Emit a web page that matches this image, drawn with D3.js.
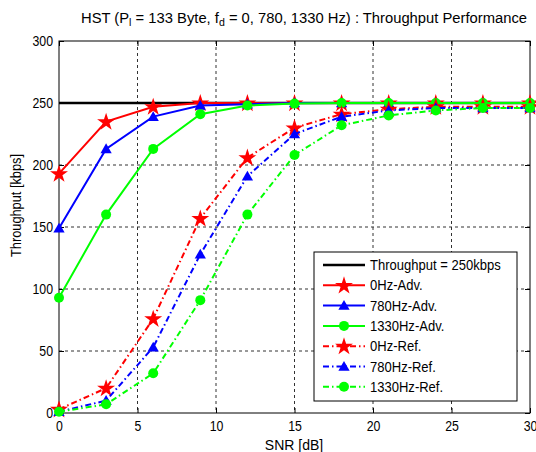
<!DOCTYPE html>
<html>
<head>
<meta charset="utf-8">
<script src="https://cdn.jsdelivr.net/npm/d3@7/dist/d3.min.js"></script>
<style>
  body { margin: 0; background: #fff; }
  svg { display: block; font-family: "Liberation Sans", Arial, sans-serif; }
</style>
</head>
<body>
<svg id="chart" width="536" height="452"></svg>
<script>
// SNR sample points [dB]
const snr = [0, 3, 6, 9, 12, 15, 18, 21, 24, 27, 30];

// Throughput [kbps] per scheme
const adv0 =    [193, 235, 247, 250, 250, 250, 250, 250, 250, 250, 250];
const adv780 =  [149, 213, 239, 248, 249, 250, 250, 250, 250, 250, 250];
const adv1330 = [93, 160, 213, 241, 248, 249.5, 250, 250, 250, 250, 250];
const ref0 =    [3, 20, 76, 157, 206, 230, 241, 245, 247, 247, 247];
const ref780 =  [1, 10, 53, 128, 191, 225, 239, 244, 246, 246, 246];
const ref1330 = [1, 7, 32, 91, 160, 208, 232, 240, 244, 246, 246];

const capValue = 250;
const xTicks = [0, 5, 10, 15, 20, 25, 30];
const yTicks = [0, 50, 100, 150, 200, 250, 300];

const seriesNames = ["0Hz-Adv.", "780Hz-Adv.", "1330Hz-Adv.", "0Hz-Ref.", "780Hz-Ref.", "1330Hz-Ref."];
const seriesValues = [adv0, adv780, adv1330, ref0, ref780, ref1330];
const seriesColors = ["#ff0000", "#0000ff", "#00ff00", "#ff0000", "#0000ff", "#00ff00"];
const seriesMarkers = ["star", "triangle", "circle", "star", "triangle", "circle"];
const seriesDash = [null, null, null, "6,3,1.5,3", "6,3,1.5,3", "6,3,1.5,3"];

const svg = d3.select("#chart");
const m = { left: 59, right: 530, top: 41, bottom: 413 };
const fs = 14;

const x = d3.scaleLinear().domain([0, 30]).range([m.left, m.right]);
const y = d3.scaleLinear().domain([0, 300]).range([m.bottom, m.top]);

// grid
const grid = svg.append("g").attr("stroke", "#000").attr("stroke-width", 1)
  .attr("stroke-dasharray", "3,3").attr("opacity", 0.8);
xTicks.slice(1, -1).forEach(t => grid.append("line")
  .attr("x1", x(t)).attr("x2", x(t)).attr("y1", m.top).attr("y2", m.bottom));
yTicks.slice(1, -1).forEach(t => grid.append("line")
  .attr("x1", m.left).attr("x2", m.right).attr("y1", y(t)).attr("y2", y(t)));

// axes (ticks inside)
const xAxis = d3.axisBottom(x).tickValues(xTicks).tickSize(-5).tickPadding(8);
const xAxisTop = d3.axisTop(x).tickValues(xTicks).tickSize(-5).tickFormat("");
const yAxis = d3.axisLeft(y).tickValues(yTicks).tickSize(-5).tickPadding(6);
const yAxisRight = d3.axisRight(y).tickValues(yTicks).tickSize(-5).tickFormat("");

function styleAxis(g) {
  g.select(".domain").remove();
  g.selectAll("line").attr("stroke", "#000");
  g.selectAll("text").attr("font-size", fs).attr("fill", "#000")
    .attr("font-family", "'Liberation Sans', Arial, sans-serif");
}
svg.append("g").attr("transform", `translate(0,${m.bottom})`).call(xAxis).call(styleAxis)
  .selectAll("text").attr("transform", "scale(0.88,1)");
svg.append("g").attr("transform", `translate(0,${m.top})`).call(xAxisTop).call(styleAxis);
svg.append("g").attr("transform", `translate(${m.left},0)`).call(yAxis).call(styleAxis)
  .selectAll("text").attr("x", -6 / 0.88).attr("transform", "scale(0.88,1)");
svg.append("g").attr("transform", `translate(${m.right},0)`).call(yAxisRight).call(styleAxis);

// plot box
svg.append("rect").attr("x", m.left).attr("y", m.top)
  .attr("width", m.right - m.left).attr("height", m.bottom - m.top)
  .attr("fill", "none").attr("stroke", "#000").attr("stroke-width", 1);

// markers
const starPath = d3.symbol().type(d3.symbolStar).size(100)();
const triPath = d3.symbol().type(d3.symbolTriangle).size(55)();
function drawMarker(g, type, cx, cy, color) {
  if (type === "circle") {
    g.append("circle").attr("cx", cx).attr("cy", cy).attr("r", 5).attr("fill", color);
  } else if (type === "star") {
    g.append("path").attr("d", starPath).attr("transform", `translate(${cx},${cy + 0.5})`).attr("fill", color);
  } else {
    g.append("path").attr("d", triPath).attr("transform", `translate(${cx},${cy + 1})`).attr("fill", color);
  }
}

const plot = svg.append("g");
// 250 kbps reference line
plot.append("line").attr("x1", x(0)).attr("x2", x(30)).attr("y1", y(capValue)).attr("y2", y(capValue))
  .attr("stroke", "#000").attr("stroke-width", 2.5);

const line = d3.line().x((d, i) => x(snr[i])).y(d => y(d));
seriesValues.forEach((vals, k) => {
  const g = plot.append("g");
  g.append("path").attr("d", line(vals)).attr("fill", "none")
    .attr("stroke", seriesColors[k]).attr("stroke-width", 2)
    .attr("stroke-dasharray", seriesDash[k]);
  vals.forEach((v, i) => drawMarker(g, seriesMarkers[k], x(snr[i]), y(v), seriesColors[k]));
});

// legend
const lg = svg.append("g");
lg.append("rect").attr("x", 314).attr("y", 252).attr("width", 203).attr("height", 149)
  .attr("fill", "#fff").attr("stroke", "#000").attr("stroke-width", 1);
const rowY = i => 265 + i * 20.3;
const legItems = [{ name: "Throughput = 250kbps", color: "#000", dash: null, marker: null, w: 2.5 }]
  .concat(seriesNames.map((n, k) => ({ name: n, color: seriesColors[k], dash: seriesDash[k], marker: seriesMarkers[k], w: 2 })));
legItems.forEach((it, i) => {
  const yy = rowY(i);
  lg.append("line").attr("x1", 323).attr("x2", 365).attr("y1", yy).attr("y2", yy)
    .attr("stroke", it.color).attr("stroke-width", it.w).attr("stroke-dasharray", it.dash);
  if (it.marker) drawMarker(lg, it.marker, 344, yy, it.color);
  const t = lg.append("text").attr("x", 370).attr("y", yy).attr("dy", "0.36em")
    .attr("font-size", fs).text(it.name);
  const w = t.node().getComputedTextLength();
  t.attr("textLength", w * 0.93).attr("lengthAdjust", "spacingAndGlyphs");
});

// title
const title = svg.append("text").attr("x", 304).attr("y", 22.7).attr("text-anchor", "middle")
  .attr("font-size", fs).attr("textLength", 446).attr("lengthAdjust", "spacingAndGlyphs");
title.append("tspan").text("HST (P");
title.append("tspan").attr("baseline-shift", "-30%").attr("font-size", 10).text("l");
title.append("tspan").attr("baseline-shift", "0").text(" = 133 Byte, f");
title.append("tspan").attr("baseline-shift", "-30%").attr("font-size", 10).text("d");
title.append("tspan").attr("baseline-shift", "0").text(" = 0, 780, 1330 Hz) : Throughput Performance");

// axis labels
svg.append("text").attr("x", 294).attr("y", 450).attr("text-anchor", "middle")
  .attr("font-size", fs).text("SNR [dB]");
svg.append("text").attr("transform", "translate(20.5,205.5) rotate(-90)")
  .attr("text-anchor", "middle").attr("font-size", fs)
  .attr("textLength", 103).attr("lengthAdjust", "spacingAndGlyphs").text("Throughput [kbps]");
</script>
</body>
</html>
